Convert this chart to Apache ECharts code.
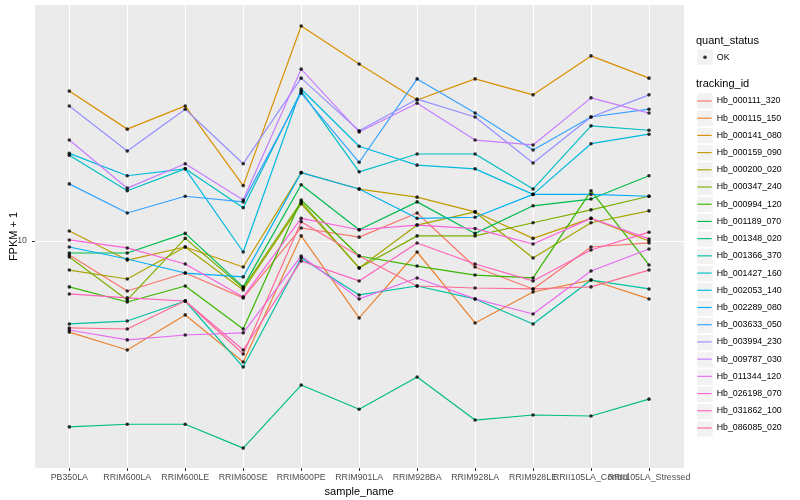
<!DOCTYPE html>
<html><head><meta charset="utf-8">
<script src="https://cdn.jsdelivr.net/npm/echarts@6/dist/echarts.min.js"></script>
<style>html,body{margin:0;padding:0;background:#fff}#c{width:800px;height:500px}</style>
</head><body><div id="c"></div>
<script>
// ---- data (FPKM + 1) ----
const categories = ['PB350LA','RRIM600LA','RRIM600LE','RRIM600SE','RRIM600PE','RRIM901LA','RRIM928BA','RRIM928LA','RRIM928LE','RRII105LA_Control','RRII105LA_Stressed'];
const Hb_000111_320 = [8.98, 6.81, 7.82, 6.46, 11.05, 10.3, 12.4, 8.19, 6.92, 9.55, 9.85];
const Hb_000115_150 = [4.97, 4.33, 5.67, 3.95, 10.4, 5.54, 9.19, 5.33, 6.76, 7.41, 6.41];
const Hb_000141_080 = [31.6, 23.6, 28.2, 15.3, 52.1, 38.9, 29.5, 34.7, 30.7, 41.4, 34.9];
const Hb_000159_090 = [10.8, 8.64, 9.55, 8.19, 16.9, 14.9, 14.0, 12.5, 10.2, 11.9, 10.0];
const Hb_000200_020 = [8.00, 7.47, 9.55, 6.87, 13.3, 8.13, 11.3, 12.5, 8.78, 11.5, 12.6];
const Hb_000347_240 = [8.84, 6.36, 10.2, 6.97, 13.5, 8.13, 10.4, 10.4, 11.5, 12.7, 14.1];
const Hb_000994_120 = [7.03, 6.26, 7.08, 5.09, 13.7, 8.91, 8.25, 7.70, 7.53, 14.7, 8.32];
const Hb_001189_070 = [9.12, 9.12, 10.6, 7.03, 15.4, 10.9, 13.5, 10.6, 13.1, 13.8, 16.5];
const Hb_001348_020 = [2.40, 2.45, 2.45, 2.04, 3.31, 2.75, 3.52, 2.53, 2.63, 2.61, 2.97];
const Hb_001366_370 = [5.29, 5.41, 6.31, 3.80, 8.78, 6.61, 7.08, 6.41, 5.29, 7.41, 6.92];
const Hb_001427_160 = [19.3, 14.7, 17.4, 12.9, 31.6, 17.0, 19.5, 19.5, 14.9, 24.2, 23.4];
const Hb_002053_140 = [19.6, 16.5, 17.4, 9.19, 32.1, 20.7, 17.9, 17.4, 14.3, 21.1, 22.7];
const Hb_002289_080 = [9.55, 8.71, 7.82, 7.59, 16.9, 14.9, 11.9, 12.0, 14.3, 14.3, 14.1];
const Hb_003633_050 = [15.5, 12.4, 14.1, 13.5, 31.1, 18.3, 34.7, 26.7, 20.1, 25.9, 27.5];
const Hb_003994_230 = [28.2, 19.95, 27.5, 18.1, 34.9, 23.3, 29.7, 25.9, 18.2, 25.9, 30.7];
const Hb_009787_030 = [21.7, 15.0, 18.1, 13.7, 37.4, 23.1, 28.8, 21.7, 20.9, 30.0, 26.7];
const Hb_011344_120 = [5.05, 4.68, 4.86, 4.94, 8.91, 6.41, 7.53, 6.41, 5.71, 7.94, 9.40];
const Hb_026198_070 = [10.08, 9.48, 8.38, 6.51, 11.9, 10.9, 11.3, 11.0, 9.77, 11.9, 10.16];
const Hb_031862_100 = [6.66, 6.46, 6.31, 4.33, 8.58, 7.36, 9.85, 8.38, 7.36, 9.33, 10.7];
const Hb_086085_020 = [5.13, 5.09, 6.31, 4.20, 11.6, 8.91, 7.08, 6.97, 6.92, 7.03, 8.00];

const trackingIds = ['Hb_000111_320','Hb_000115_150','Hb_000141_080','Hb_000159_090','Hb_000200_020','Hb_000347_240','Hb_000994_120','Hb_001189_070','Hb_001348_020','Hb_001366_370','Hb_001427_160','Hb_002053_140','Hb_002289_080','Hb_003633_050','Hb_003994_230','Hb_009787_030','Hb_011344_120','Hb_026198_070','Hb_031862_100','Hb_086085_020'];
const seriesValues = [Hb_000111_320,Hb_000115_150,Hb_000141_080,Hb_000159_090,Hb_000200_020,Hb_000347_240,Hb_000994_120,Hb_001189_070,Hb_001348_020,Hb_001366_370,Hb_001427_160,Hb_002053_140,Hb_002289_080,Hb_003633_050,Hb_003994_230,Hb_009787_030,Hb_011344_120,Hb_026198_070,Hb_031862_100,Hb_086085_020];
const quantStatus = ['OK'];
const yTickValues = [10];
const yLimits = [1.751, 61.19];

// ---- styles ----
const palette = ['#F8766D','#EA8331','#D89000','#C09B00','#A3A500','#7CAE00','#39B600','#00BB4E','#00BF7D','#00C1A3','#00BFC4','#00BAE0','#00B0F6','#35A2FF','#9590FF','#C77CFF','#E76BF3','#FA62DB','#FF62BC','#FF6C91'];
const FONT = '"Liberation Sans", Arial, Helvetica, sans-serif';
const KEY_X = 697.3, KEY_W = 15.4, KEY0_Y = 101, KEY_STEP = 17.26;
const ITEM_H = 9.05;

const chart = echarts.init(document.getElementById('c'), null, {renderer: 'canvas'});

const lineSeries = trackingIds.map((id, i) => ({
  name: id, type: 'line', xAxisIndex: 1, yAxisIndex: 1,
  data: seriesValues[i], showSymbol: false, symbol: 'none',
  lineStyle: {color: palette[i], width: 1.2}, itemStyle: {color: palette[i]},
  emphasis: {disabled: true}, silent: true, z: 3
}));
const pointData = [];
seriesValues.forEach(arr => arr.forEach((v, j) => pointData.push([j, v])));
const pointSeries = {
  name: quantStatus[0], type: 'scatter', xAxisIndex: 1, yAxisIndex: 1,
  data: pointData, symbol: 'circle', symbolSize: 3.6,
  itemStyle: {color: '#000'}, emphasis: {disabled: true}, silent: true, z: 5
};

const graphics = [];
graphics.push({type: 'rect', shape: {x: KEY_X, y: 49.4, width: KEY_W, height: 15.4}, style: {fill: '#F2F2F2'}, z: 0});
trackingIds.forEach((id, i) => {
  graphics.push({type: 'rect', shape: {x: KEY_X, y: KEY0_Y + i * KEY_STEP - 7.65, width: KEY_W, height: 15.3}, style: {fill: '#F2F2F2'}, z: 0});
});
graphics.push({type: 'text', x: 696, y: 40.7, style: {text: 'quant_status', fontSize: 11, fontFamily: FONT, fill: '#000', verticalAlign: 'middle'}});
graphics.push({type: 'text', x: 696, y: 84.3, style: {text: 'tracking_id', fontSize: 11, fontFamily: FONT, fill: '#000', verticalAlign: 'middle'}});

const option = {
  animation: false,
  backgroundColor: '#fff',
  grid: [
    {left: 35, right: 116, top: 5, bottom: 32, show: true, backgroundColor: '#EBEBEB', borderWidth: 0, containLabel: false, outerBoundsMode: 'none'},
    {left: 69.3, right: 151, top: 5, bottom: 32, containLabel: false, outerBoundsMode: 'none'}
  ],
  xAxis: [
    {gridIndex: 0, type: 'category', data: categories, show: false},
    {gridIndex: 1, type: 'category', data: categories, boundaryGap: false,
     axisLine: {show: false},
     axisTick: {show: true, length: 3, lineStyle: {color: '#333333', width: 1}},
     axisLabel: {interval: 0, hideOverlap: false, color: '#4D4D4D', fontSize: 8.8, fontFamily: FONT, margin: 5},
     splitLine: {show: true, lineStyle: {color: '#FFFFFF', width: 1.1}},
     name: 'sample_name', nameLocation: 'middle', nameGap: 17,
     nameTextStyle: {fontSize: 11, color: '#000', fontFamily: FONT}}
  ],
  yAxis: [
    {gridIndex: 0, type: 'log', logBase: 10, min: yLimits[0], max: yLimits[1],
     axisLine: {show: false},
     axisTick: {show: true, length: 3, customValues: yTickValues, lineStyle: {color: '#333333', width: 1}},
     axisLabel: {customValues: yTickValues, showMinLabel: false, showMaxLabel: false, color: '#4D4D4D', fontSize: 8.8, fontFamily: FONT, margin: 8},
     splitLine: {show: true, lineStyle: {color: '#FFFFFF', width: 1.1}},
     name: 'FPKM + 1', nameLocation: 'middle', nameGap: 16, nameRotate: 90, nameMoveOverlap: false,
     nameTextStyle: {fontSize: 11, color: '#000', fontFamily: FONT}},
    {gridIndex: 1, type: 'log', logBase: 10, min: yLimits[0], max: yLimits[1], show: false}
  ],
  legend: [
    {orient: 'vertical', left: KEY_X, top: KEY0_Y - ITEM_H / 2, padding: 0, itemGap: KEY_STEP - ITEM_H,
     itemWidth: 14.4, itemHeight: 9, icon: 'path://M0,0H100V8H0Z', selectedMode: false,
     data: trackingIds.map((id, i) => ({name: id, itemStyle: {color: palette[i]}})),
     textStyle: {fontSize: 8.8, color: '#000', fontFamily: FONT}},
    {orient: 'vertical', left: 703.2, top: 57.2 - ITEM_H / 2, padding: 0, itemGap: 0,
     itemWidth: 3.6, itemHeight: 9, icon: 'circle', selectedMode: false,
     data: [{name: quantStatus[0], itemStyle: {color: '#000'}}],
     textStyle: {fontSize: 8.8, color: '#000', fontFamily: FONT, padding: [0, 0, 0, 5]}}
  ],
  graphic: graphics,
  series: lineSeries.concat([pointSeries])
};
chart.setOption(option);
</script>
</body></html>
